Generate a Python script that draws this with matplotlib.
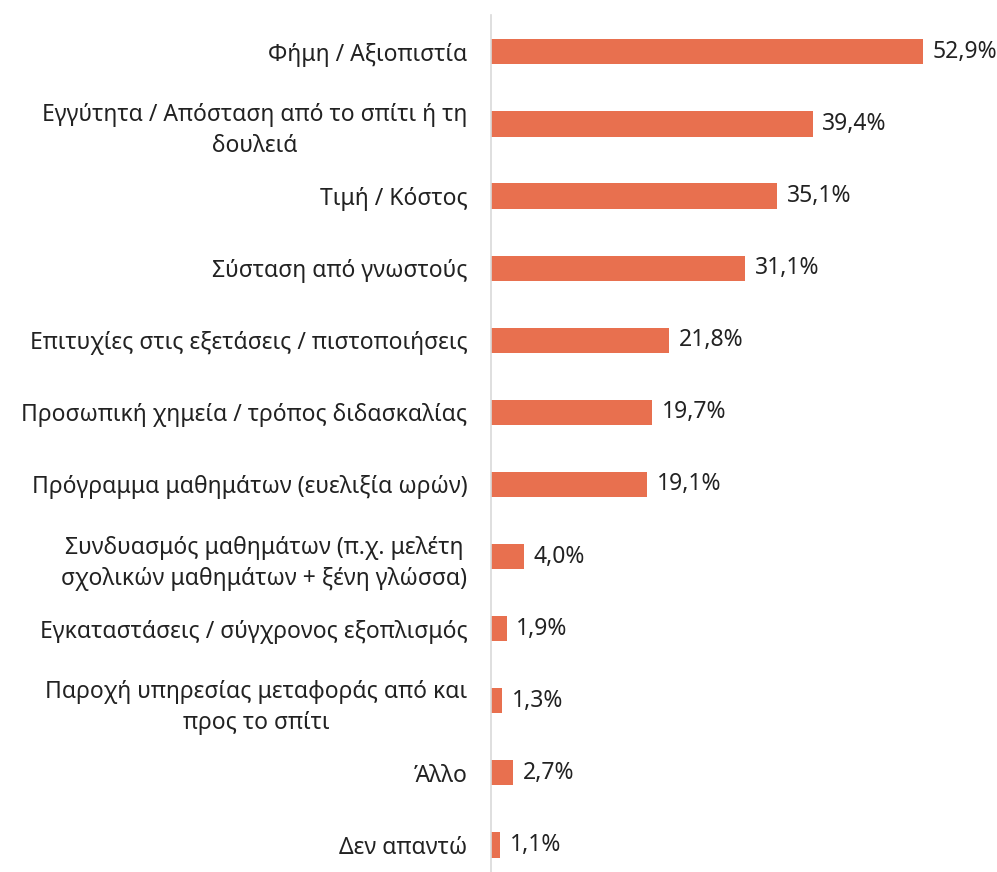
import matplotlib.pyplot as plt

plt.rcParams['font.family'] = ['Noto Sans', 'DejaVu Sans']

categories = [
    "Φήμη / Αξιοπιστία",
    "Εγγύτητα / Απόσταση από το σπίτι ή τη\nδουλειά",
    "Τιμή / Κόστος",
    "Σύσταση από γνωστούς",
    "Επιτυχίες στις εξετάσεις / πιστοποιήσεις",
    "Προσωπική χημεία / τρόπος διδασκαλίας",
    "Πρόγραμμα μαθημάτων (ευελιξία ωρών)",
    "Συνδυασμός μαθημάτων (π.χ. μελέτη\nσχολικών μαθημάτων + ξένη γλώσσα)",
    "Εγκαταστάσεις / σύγχρονος εξοπλισμός",
    "Παροχή υπηρεσίας μεταφοράς από και\nπρος το σπίτι",
    "Άλλο",
    "Δεν απαντώ",
]
values = [52.9, 39.4, 35.1, 31.1, 21.8, 19.7, 19.1, 4.0, 1.9, 1.3, 2.7, 1.1]

bar_color = "#E8704F"

fig = plt.figure(figsize=(9.97, 8.72), dpi=100)
ax = fig.add_axes([0.4925, 0.0, 0.5075, 0.983])

pos = list(range(len(categories)))
ax.barh(pos, values, height=0.35, color=bar_color)

for y, v in zip(pos, values):
    ax.text(v + 1.2, y, f"{v:.1f}%".replace(".", ","), va="center", ha="left",
            fontsize=16.5, color="#222222")

ax.set_yticks(pos)
ax.set_yticklabels(categories, fontsize=16.5, color="#222222", linespacing=1.4,
                   multialignment="center")
ax.tick_params(axis="y", length=0, pad=17)
ax.set_xticks([])
ax.set_xlim(0, 62)
ax.set_ylim(11.375, -0.513)

for s in ["top", "right", "bottom"]:
    ax.spines[s].set_visible(False)
ax.spines["left"].set_color("#d9d9d9")
ax.spines["left"].set_linewidth(1.2)

fig.savefig("out.png", dpi=100)
